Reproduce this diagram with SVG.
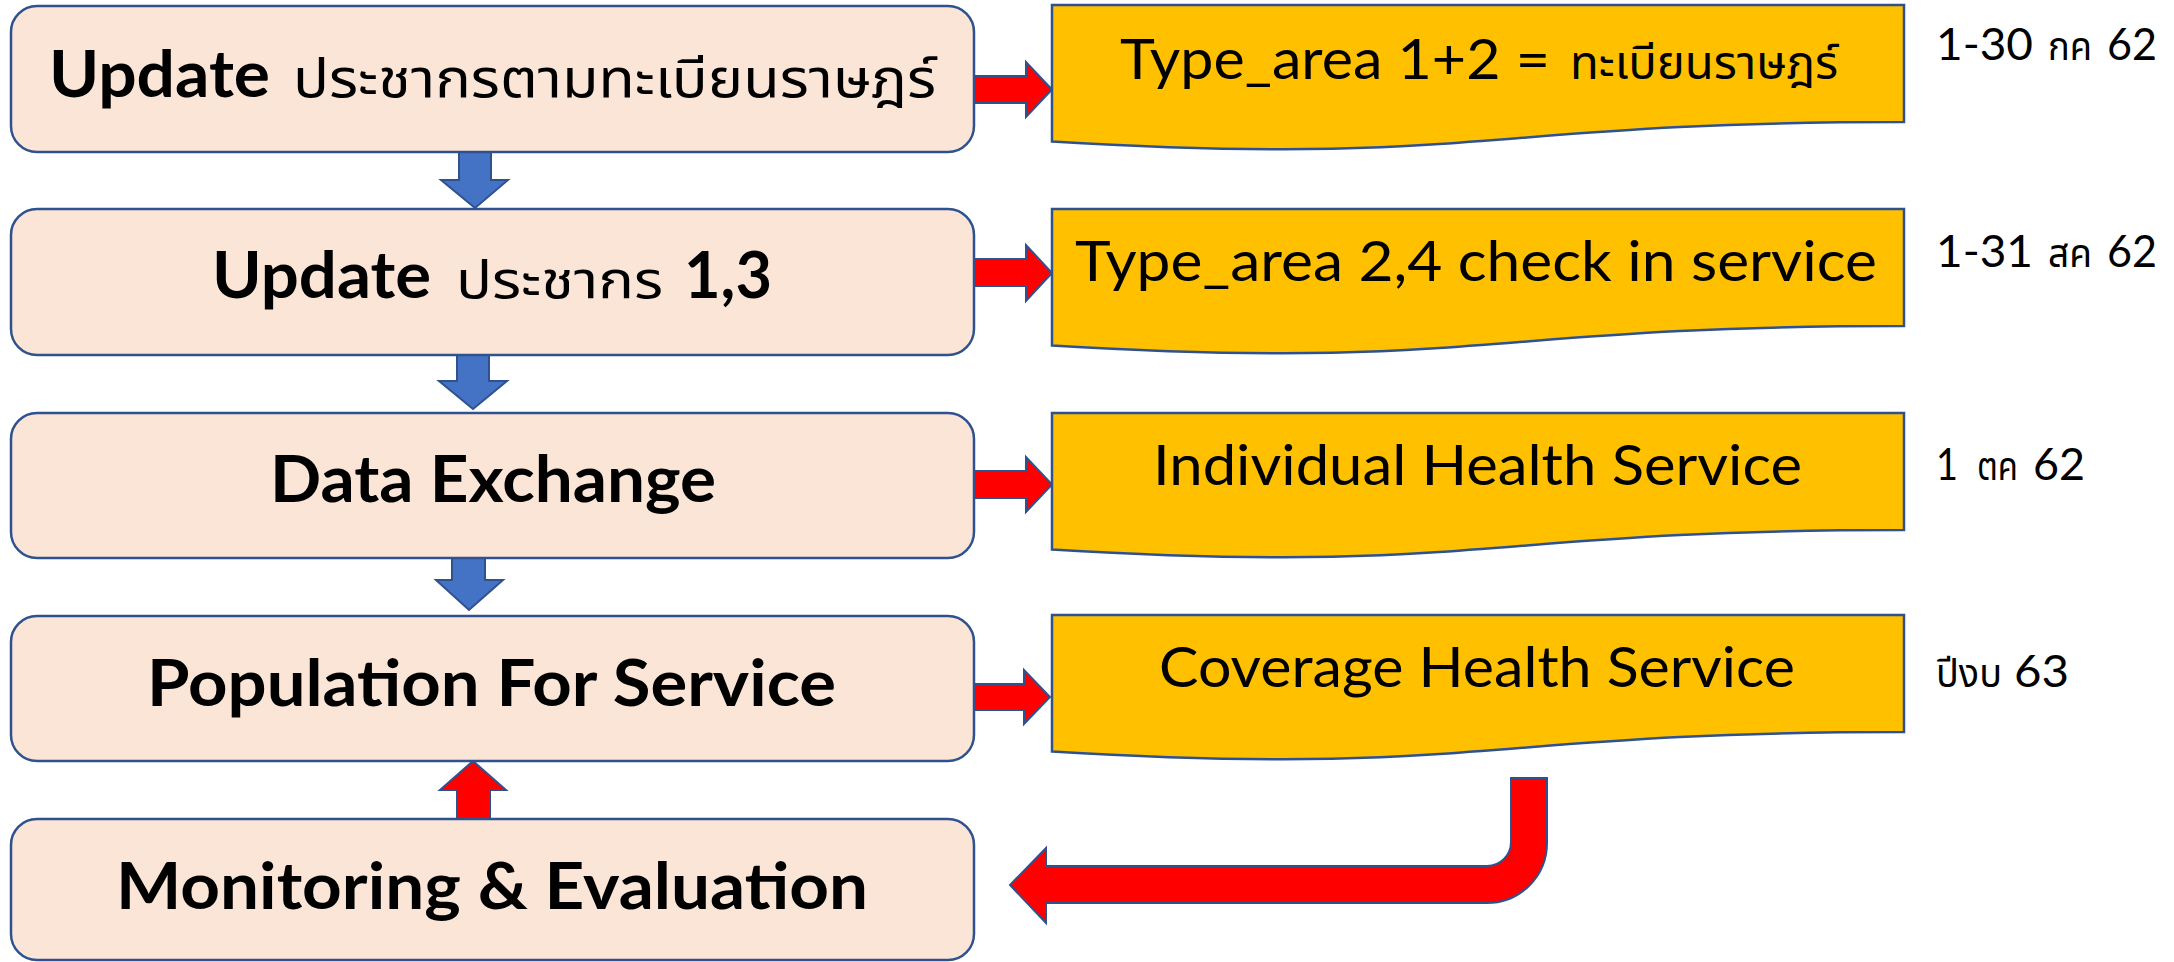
<svg xmlns="http://www.w3.org/2000/svg" width="2174" height="962" viewBox="0 0 2174 962">
<style>
.box{fill:#FBE5D6;stroke:#2F528F;stroke-width:2.5}
.doc{fill:#FFC000;stroke:#2F528F;stroke-width:2.5}
.blue{fill:#4472C4;stroke:#2F528F;stroke-width:2}
.red{fill:#FF0000;stroke:#2F528F;stroke-width:2}
.b{font-family:Lato,"Liberation Sans","Noto Sans Thai","Tlwg Typo",sans-serif;font-weight:700;font-size:65px;fill:#000}
.th{font-family:"Noto Sans Thai","Noto Sans Thai UI","Loma","Tlwg Typist","Garuda",Lato,sans-serif;font-weight:400;fill:#000}
.r{font-family:Lato,"Liberation Sans","Noto Sans Thai",sans-serif;font-weight:400;font-size:57px;fill:#000}
.d{font-family:Lato,"Liberation Sans","Noto Sans Thai",sans-serif;font-weight:400;font-size:45px;fill:#000}
</style>
<rect width="2174" height="962" fill="#FFFFFF"/>
<g id="connectors">
<path class="blue" d="M459,151 H491 V180 H508 L475,208 L441,180 H459 Z"/>
<path class="blue" d="M457,355 H489 V381 H507 L473,409 L439,381 H457 Z"/>
<path class="blue" d="M452,552 H485 V580 H503 L469,610 L436,580 H452 Z"/>
<path class="red" d="M457,818 H490 V790 H506 L473,761 L440,790 H457 Z"/>
<path class="red" d="M974,76 H1026 V62 L1052,89.5 L1026,117 V103 H974 Z"/>
<path class="red" d="M974,259 H1026 V245 L1052,273 L1026,301 V286 H974 Z"/>
<path class="red" d="M974,471 H1026 V457 L1052,484.5 L1026,512 V498 H974 Z"/>
<path class="red" d="M972,684 H1024 V670 L1050,697 L1024,724 V710 H972 Z"/>
<path class="red" d="M1511,778 H1547 V843 A60,60 0 0 1 1487,903 H1046 V923 L1010,885 L1046,848 V866 H1487 A24,24 0 0 0 1511,842 Z"/>
</g>
<g id="node-update-registry">
<rect class="box" x="11" y="6" width="963" height="146" rx="26"/>
<text class="b" x="49" y="97" textLength="221" lengthAdjust="spacingAndGlyphs">Update</text>
<text class="th" x="293" y="97" font-size="54" textLength="643" lengthAdjust="spacingAndGlyphs">ประชากรตามทะเบียนราษฎร์</text>
</g>
<g id="node-update-13">
<rect class="box" x="11" y="209" width="963" height="146" rx="26"/>
<text class="b" x="212" y="298" textLength="219" lengthAdjust="spacingAndGlyphs">Update</text>
<text class="th" x="456" y="298" font-size="52" textLength="207" lengthAdjust="spacingAndGlyphs">ประชากร</text>
<text class="b" x="684" y="298" textLength="88" lengthAdjust="spacingAndGlyphs">1,3</text>
</g>
<g id="node-data-exchange">
<rect class="box" x="11" y="413" width="963" height="145" rx="26"/>
<text class="b" x="270" y="502" textLength="446" lengthAdjust="spacingAndGlyphs">Data Exchange</text>
</g>
<g id="node-population">
<rect class="box" x="11" y="616" width="963" height="145" rx="26"/>
<text class="b" x="147" y="706" textLength="689" lengthAdjust="spacingAndGlyphs">Population For Service</text>
</g>
<g id="node-monitoring">
<rect class="box" x="11" y="819" width="963" height="141" rx="26"/>
<text class="b" x="116" y="909" textLength="752" lengthAdjust="spacingAndGlyphs">Monitoring &amp; Evaluation</text>
</g>
<g id="node-type-area-12">
<path class="doc" d="M1052,5 H1904 V122 C1478,122 1478,167 1052,141.5 Z"/>
<text class="r" x="1120" y="79" textLength="430" lengthAdjust="spacingAndGlyphs">Type_area 1+2 =</text>
<text class="th" x="1570" y="79" font-size="47" textLength="268" lengthAdjust="spacingAndGlyphs">ทะเบียนราษฎร์</text>
</g>
<g id="node-type-area-24">
<path class="doc" d="M1052,209 H1904 V326 C1478,326 1478,371 1052,345.5 Z"/>
<text class="r" x="1075" y="281" textLength="802" lengthAdjust="spacingAndGlyphs">Type_area 2,4 check in service</text>
</g>
<g id="node-individual">
<path class="doc" d="M1052,413 H1904 V530 C1478,530 1478,575 1052,549.5 Z"/>
<text class="r" x="1153" y="485" textLength="649" lengthAdjust="spacingAndGlyphs">Individual Health Service</text>
</g>
<g id="node-coverage">
<path class="doc" d="M1052,615 H1904 V732 C1478,732 1478,777 1052,751.5 Z"/>
<text class="r" x="1159" y="687" textLength="636" lengthAdjust="spacingAndGlyphs">Coverage Health Service</text>
</g>
<g id="labels">
<text class="d" x="1936" y="60" textLength="97" lengthAdjust="spacingAndGlyphs">1-30</text>
<text class="th" x="2048" y="60" font-size="40" textLength="44" lengthAdjust="spacingAndGlyphs">กค</text>
<text class="d" x="2107" y="60" textLength="50" lengthAdjust="spacingAndGlyphs">62</text>
<text class="d" x="1936" y="267" textLength="97" lengthAdjust="spacingAndGlyphs">1-31</text>
<text class="th" x="2048" y="267" font-size="40" textLength="44" lengthAdjust="spacingAndGlyphs">สค</text>
<text class="d" x="2107" y="267" textLength="50" lengthAdjust="spacingAndGlyphs">62</text>
<text class="d" x="1936" y="480" textLength="22" lengthAdjust="spacingAndGlyphs">1</text>
<text class="th" x="1977" y="480" font-size="40" textLength="41" lengthAdjust="spacingAndGlyphs">ตค</text>
<text class="d" x="2033" y="480" textLength="52" lengthAdjust="spacingAndGlyphs">62</text>
<text class="th" x="1936" y="687" font-size="40" textLength="66" lengthAdjust="spacingAndGlyphs">ปีงบ</text>
<text class="d" x="2014" y="687" textLength="55" lengthAdjust="spacingAndGlyphs">63</text>
</g>
</svg>
